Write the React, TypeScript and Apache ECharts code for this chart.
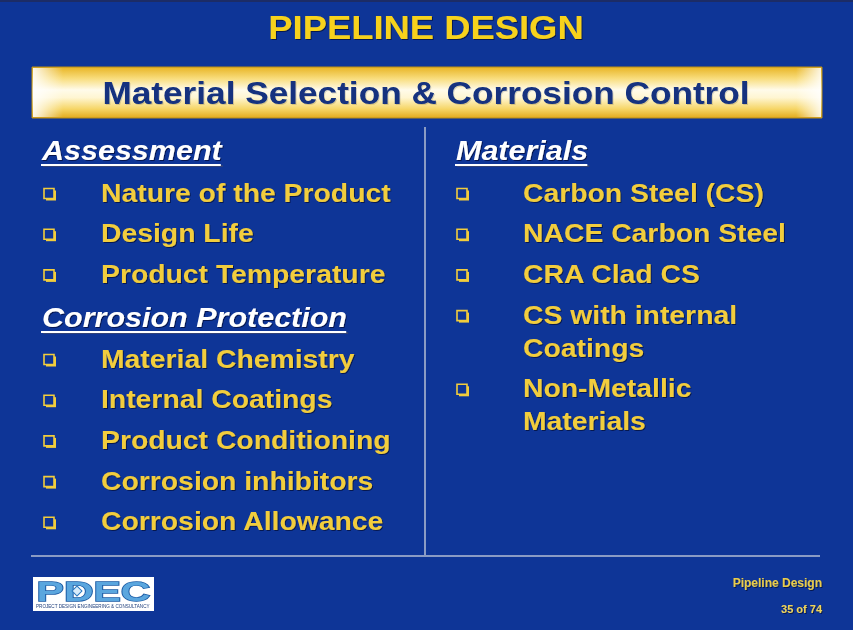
import React, { useEffect, useRef } from "react";
import * as echarts from "echarts";

const slideTitle = "PIPELINE DESIGN";
const bandTitle = "Material Selection & Corrosion Control";
const leftHeaders = ["Assessment", "Corrosion Protection"];
const assessmentItems = ["Nature of the Product", "Design Life", "Product Temperature"];
const protectionItems = [
  "Material Chemistry",
  "Internal Coatings",
  "Product Conditioning",
  "Corrosion inhibitors",
  "Corrosion Allowance",
];
const rightHeader = "Materials";
const materialItems: string[][] = [
  ["Carbon Steel (CS)"],
  ["NACE Carbon Steel"],
  ["CRA Clad CS"],
  ["CS with internal", "Coatings"],
  ["Non-Metallic", "Materials"],
];
const footerTitle = "Pipeline Design";
const footerPage = "35 of 74";
const logoText = "PDEC";
const logoSub = "PROJECT DESIGN ENGINEERING & CONSULTANCY";

const FONT = '"Liberation Sans", Arial, sans-serif';
const BG = "#0e3597";
const YELLOW = "#f2cd3c";
const TITLE_YELLOW = "#f7d21f";
const SX = 1.09;

function measure(text: string, font: string): number {
  const c = document.createElement("canvas");
  const ctx = c.getContext("2d")!;
  ctx.font = font;
  return ctx.measureText(text).width;
}

function txt(
  text: string,
  x: number,
  y: number,
  size: number,
  fill: string,
  opts: any = {}
): any {
  const align = opts.align ?? "left";
  return {
    type: "text",
    x,
    y,
    scaleX: opts.scaleX ?? SX,
    z: 10,
    style: {
      text,
      x: 0,
      y: 0,
      fill,
      font: `${opts.italic ? "italic " : ""}bold ${size}px ${FONT}`,
      align,
      textAlign: align,
      textVerticalAlign: "middle",
      verticalAlign: "middle",
      textShadowColor: opts.shadow ?? "rgba(0,0,20,0.55)",
      textShadowBlur: 1,
      textShadowOffsetX: 1,
      textShadowOffsetY: 1,
    },
  };
}

function bullet(x: number, y: number): any[] {
  return [
    { type: "rect", z: 9, shape: { x: x + 2, y: y - 3, width: 10, height: 10 }, style: { fill: YELLOW } },
    {
      type: "rect",
      z: 9,
      shape: { x: x, y: y - 5, width: 10, height: 10 },
      style: { fill: BG, stroke: YELLOW, lineWidth: 1.6 },
    },
  ];
}

function header(text: string, x: number, y: number): any[] {
  const size = 28;
  const w = measure(text, `italic bold ${size}px ${FONT}`) * SX;
  return [
    txt(text, x, y, size, "#ffffff", { italic: true, shadow: "rgba(0,0,30,0.6)" }),
    {
      type: "line",
      z: 9,
      shape: { x1: x + 1, y1: y + 16, x2: x + w + 1, y2: y + 16 },
      style: { stroke: "rgba(60,70,110,0.8)", lineWidth: 2 },
    },
    {
      type: "line",
      z: 10,
      shape: { x1: x - 1, y1: y + 15, x2: x + w - 1, y2: y + 15 },
      style: { stroke: "#ffffff", lineWidth: 2 },
    },
  ];
}

export default function App() {
  const ref = useRef<HTMLDivElement>(null);

  useEffect(() => {
    if (!ref.current) return;
    const chart = echarts.init(ref.current, null, { renderer: "svg" });
    const W = 853;
    const H = 630;
    const els: any[] = [];

    // background
    els.push({ type: "rect", z: 0, shape: { x: 0, y: 0, width: W, height: H }, style: { fill: BG } });
    els.push({ type: "rect", z: 1, shape: { x: 0, y: 0, width: W, height: 2 }, style: { fill: "#1c2c66" } });

    // title
    els.push(txt(slideTitle, 426, 27, 34, TITLE_YELLOW, { scaleX: 1.07, align: "center" }));

    // band
    els.push({
      type: "rect",
      z: 2,
      shape: { x: 32, y: 67, width: 790, height: 51 },
      style: {
        fill: new echarts.graphic.LinearGradient(0, 0, 0, 1, [
          { offset: 0, color: "#e8b424" },
          { offset: 0.22, color: "#f8dc7a" },
          { offset: 0.45, color: "#fffbea" },
          { offset: 0.6, color: "#fff6d2" },
          { offset: 0.82, color: "#f6d668" },
          { offset: 1, color: "#e2aa1c" },
        ]),
        stroke: "#b88e1a",
        lineWidth: 1,
      },
    });
    els.push({
      type: "rect",
      z: 3,
      shape: { x: 33, y: 68, width: 30, height: 49 },
      style: {
        fill: new echarts.graphic.LinearGradient(0, 0, 1, 0, [
          { offset: 0, color: "rgba(255,255,255,0.9)" },
          { offset: 1, color: "rgba(255,255,255,0)" },
        ]),
      },
    });
    els.push({
      type: "rect",
      z: 3,
      shape: { x: 796, y: 68, width: 25, height: 49 },
      style: {
        fill: new echarts.graphic.LinearGradient(0, 0, 1, 0, [
          { offset: 0, color: "rgba(255,255,255,0)" },
          { offset: 1, color: "rgba(255,255,255,0.85)" },
        ]),
      },
    });
    els.push(
      txt(bandTitle, 426, 93, 32, "#12307f", { scaleX: 1.1, shadow: "rgba(0,0,0,0.15)", align: "center" })
    );

    // dividers
    els.push({ type: "line", z: 4, shape: { x1: 425, y1: 127, x2: 425, y2: 555 }, style: { stroke: "#8a9bc4", lineWidth: 2 } });
    els.push({ type: "line", z: 4, shape: { x1: 31, y1: 556, x2: 820, y2: 556 }, style: { stroke: "#8a9bc4", lineWidth: 2 } });

    // left column
    const rowGap = 40.7;
    els.push(...header(leftHeaders[0], 42, 150));
    assessmentItems.forEach((t, i) => {
      const y = 192.5 + i * rowGap;
      els.push(...bullet(44, y + 1));
      els.push(txt(t, 101, y, 26, YELLOW));
    });
    els.push(...header(leftHeaders[1], 42, 317));
    protectionItems.forEach((t, i) => {
      const y = 358.5 + i * rowGap;
      els.push(...bullet(44, y + 1));
      els.push(txt(t, 101, y, 26, YELLOW));
    });

    // right column
    els.push(...header(rightHeader, 456, 150));
    let y = 192.5;
    materialItems.forEach((lines) => {
      els.push(...bullet(457, y + 1));
      lines.forEach((l, j) => {
        els.push(txt(l, 523, y + j * 33, 26, YELLOW));
      });
      y += rowGap + (lines.length - 1) * 33;
    });

    // logo
    els.push({ type: "rect", z: 5, shape: { x: 33, y: 577, width: 121, height: 34 }, style: { fill: "#ffffff" } });
    const logoW = measure(logoText, `bold 28px ${FONT}`);
    els.push({
      type: "text",
      z: 6,
      x: 93.5,
      y: 591.5,
      scaleX: 114 / logoW,
      style: {
        text: logoText,
        x: 0,
        y: 0,
        font: `bold 28px ${FONT}`,
        align: "center",
        textAlign: "center",
        textVerticalAlign: "middle",
        verticalAlign: "middle",
        fill: "#5aa6de",
        stroke: "#1a5aa4",
        lineWidth: 1.4,
      },
    });
    els.push({
      type: "rect",
      z: 7,
      rotation: Math.PI / 4,
      x: 77,
      y: 591,
      shape: { x: -3.5, y: -3.5, width: 7, height: 7 },
      style: { fill: "#d8ecfa", stroke: "#2a78c0", lineWidth: 1 },
    });
    const subW = measure(logoSub, `5px ${FONT}`);
    els.push({
      type: "text",
      z: 6,
      x: 36,
      y: 606,
      scaleX: 114 / subW,
      style: {
        text: logoSub,
        x: 0,
        y: 0,
        font: `5px ${FONT}`,
        fill: "#1c3c7a",
        align: "left",
        textAlign: "left",
        textVerticalAlign: "middle",
        verticalAlign: "middle",
      },
    });

    // footer
    els.push(txt(footerTitle, 822, 583, 12, "#e9cc4c", { scaleX: 1, align: "right" }));
    els.push(txt(footerPage, 822, 609, 11, "#eed35a", { scaleX: 1, align: "right" }));

    chart.setOption({ animation: false, graphic: { elements: els } });
    return () => chart.dispose();
  }, []);

  return (
    <div
      ref={ref}
      style={{ position: "fixed", left: 0, top: 0, width: 853, height: 630 }}
    />
  );
}
